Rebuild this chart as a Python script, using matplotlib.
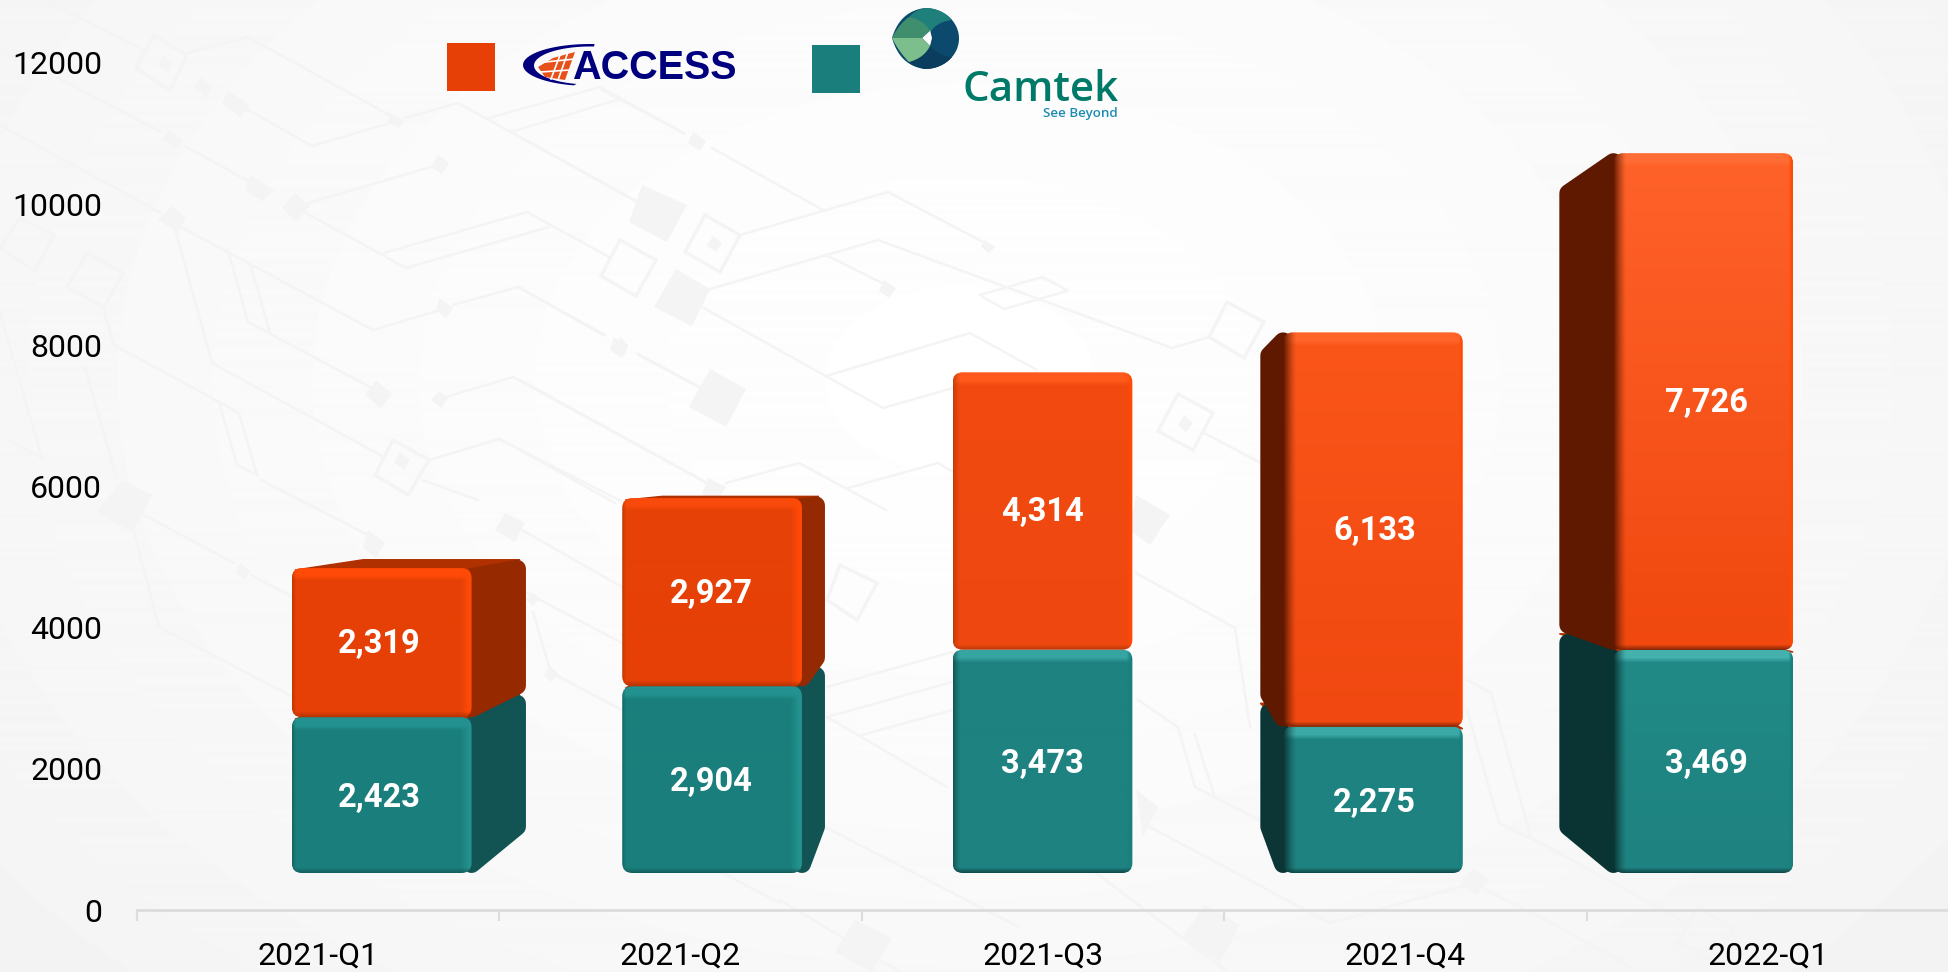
import numpy as np
import matplotlib
matplotlib.use('Agg')
import matplotlib.pyplot as plt
from matplotlib.patches import FancyBboxPatch, Polygon, Rectangle
from matplotlib.colors import to_rgb

W, H = 1949, 972

quarters = ['2021-Q1', '2021-Q2', '2021-Q3', '2021-Q4', '2022-Q1']
camtek = [2423, 2904, 3473, 2275, 3469]
access = [2319, 2927, 4314, 6133, 7726]
y_ticks = [0, 2000, 4000, 6000, 8000, 10000, 12000]

# per bar shading, left to right
orange_top = ['#E64006', '#E64208', '#F24A10', '#FB561A', '#FF6229']
orange_bot = ['#E64006', '#E64006', '#EE4810', '#F04810', '#F0480F']
orange_strip = ['#FF4A08', '#F84A0A', '#FF5A1C', '#FF6428', '#FF6C34']
orange_side = ['#972900', '#952A02', '#5E1900', '#5E1900', '#5E1900']
teal_top = ['#1A7F7C', '#1A7F7C', '#1E8280', '#1E8280', '#218A87']
teal_bot = ['#1A7F7C', '#1A7F7C', '#1E8280', '#1E8280', '#1E8280']
teal_strip = ['#23928F', '#23928F', '#36A5A2', '#3BA9A5', '#44B1AE']
teal_side = ['#125353', '#125353', '#0C3636', '#0C3636', '#0A3333']
left_w = [4, 4, 7, 13, 13]
right_w = [11, 11, 6, 4, 4]

# background circuit traces, in picture pixels
traces = [
    [(45, 0), (143, 50)], [(187, 53), (248, 37), (393, 117)], [(58, 78), (161, 132)],
    [(185, 146), (250, 182)], [(245, 108), (312, 146), (393, 122)], [(404, 118), (458, 103), (638, 202)],
    [(489, 118), (600, 87), (683, 133)], [(511, 132), (620, 99)], [(0, 125), (161, 213)],
    [(181, 227), (373, 330), (440, 310)], [(453, 305), (518, 287), (603, 335)], [(638, 354), (699, 387)],
    [(308, 203), (431, 167)], [(306, 213), (406, 268), (549, 227)], [(384, 253), (527, 212), (609, 257)],
    [(176, 232), (212, 363), (384, 457)], [(228, 250), (248, 322), (370, 387)], [(250, 263), (270, 333)],
    [(103, 308), (114, 345), (219, 402), (237, 465), (257, 475)], [(219, 402), (239, 413), (257, 475)],
    [(85, 367), (116, 477)], [(0, 313), (42, 458)], [(9, 440), (42, 458)],
    [(446, 397), (513, 377), (707, 483)], [(429, 460), (499, 439), (625, 503)], [(422, 480), (478, 500)],
    [(134, 532), (159, 627), (293, 697)], [(144, 515), (234, 563)], [(251, 575), (293, 597)],
    [(261, 480), (368, 535)], [(602, 90), (684, 133)], [(712, 148), (823, 210)],
    [(520, 137), (639, 203)], [(740, 235), (888, 192), (985, 243)], [(710, 289), (878, 240), (1172, 348), (1209, 337)],
    [(828, 256), (886, 285)], [(980, 295), (1042, 277), (1067, 290)], [(983, 297), (1004, 309), (1067, 291)],
    [(702, 307), (883, 408), (953, 388)], [(826, 376), (970, 333), (1037, 370)], [(520, 288), (605, 335)],
    [(639, 355), (699, 387)], [(520, 380), (707, 483)], [(726, 483), (799, 463), (886, 510)],
    [(848, 488), (938, 463), (953, 472)], [(520, 450), (615, 503)], [(1204, 433), (1261, 463)],
    [(827, 687), (952, 652)], [(827, 717), (952, 682)], [(862, 735), (952, 710)], [(827, 717), (947, 787)],
    [(1136, 573), (1235, 628), (1250, 727)], [(1138, 700), (1178, 727), (1195, 787), (1265, 823)],
    [(1195, 735), (1215, 798)], [(1150, 827), (1330, 923), (1467, 885)], [(1486, 890), (1560, 927)],
    [(825, 827), (1019, 927)], [(1088, 867), (1228, 972)], [(780, 900), (900, 972)],
    [(1467, 680), (1491, 693), (1531, 838), (1560, 853)], [(1467, 710), (1499, 823), (1540, 843), (1687, 923)],
    [(1540, 917), (1640, 972)], [(522, 530), (622, 587)], [(527, 593), (622, 643)], [(533, 612), (550, 670)],
    [(552, 673), (622, 710)], [(721, 872), (780, 903)],
]
solid_diamonds = [
    [(163, 55), (172, 62), (168, 72), (159, 66)], [(200, 77), (212, 87), (206, 97), (195, 88)],
    [(228, 90), (250, 106), (240, 117), (222, 104)], [(391, 113), (405, 122), (398, 128), (388, 122)],
    [(168, 130), (183, 140), (176, 149), (163, 140)], [(250, 175), (274, 190), (262, 201), (245, 190)],
    [(295, 193), (310, 207), (296, 221), (282, 208)], [(172, 206), (186, 218), (178, 232), (158, 220)],
    [(438, 155), (449, 163), (442, 174), (431, 167)], [(642, 185), (687, 205), (667, 242), (629, 222)],
    [(676, 269), (710, 289), (692, 326), (654, 307)], [(710, 369), (746, 389), (726, 427), (689, 407)],
    [(614, 337), (628, 347), (622, 358), (610, 350)], [(693, 132), (706, 141), (700, 151), (688, 143)],
    [(985, 240), (995, 247), (989, 253), (981, 247)], [(884, 280), (896, 288), (889, 298), (879, 291)],
    [(439, 298), (453, 308), (446, 318), (436, 310)], [(620, 337), (628, 345), (624, 355), (615, 347)],
    [(439, 391), (448, 398), (441, 408), (431, 400)], [(376, 380), (392, 394), (381, 408), (365, 395)],
    [(122, 480), (152, 495), (132, 532), (97, 512)], [(368, 530), (385, 543), (376, 558), (363, 548)],
    [(505, 513), (525, 523), (515, 542), (495, 530)], [(240, 563), (250, 571), (245, 580), (236, 573)],
    [(532, 592), (540, 598), (533, 606), (526, 600)], [(549, 666), (558, 673), (552, 682), (544, 676)],
    [(855, 920), (892, 938), (872, 972), (835, 952)], [(1205, 905), (1240, 925), (1220, 962), (1183, 937)],
    [(1474, 868), (1488, 880), (1476, 895), (1460, 883)], [(1136, 495), (1170, 515), (1150, 545), (1130, 530)],
    [(708, 478), (726, 487), (716, 503), (702, 494)], [(1136, 790), (1158, 807), (1143, 837)],
    [(713, 236), (722, 243), (716, 252), (707, 246)], [(1184, 415), (1193, 423), (1186, 432), (1178, 425)],
    [(400, 452), (410, 460), (404, 470), (394, 462)],
]
outline_diamonds = [
    [(154, 35), (187, 55), (170, 90), (136, 68)], [(20, 218), (54, 235), (35, 271), (0, 248)],
    [(87, 253), (123, 273), (104, 307), (67, 287)], [(393, 440), (429, 460), (408, 495), (375, 475)],
    [(620, 240), (656, 260), (636, 296), (601, 276)], [(705, 215), (740, 235), (720, 272), (685, 252)],
    [(1227, 302), (1264, 322), (1244, 358), (1209, 337)], [(1178, 394), (1213, 413), (1193, 450), (1158, 431)],
    [(840, 565), (877, 583), (857, 620), (827, 600)], [(1698, 908), (1733, 928), (1715, 962), (1678, 942)],
]

fig = plt.figure(figsize=(W / 100, H / 100), dpi=100)
plt.rcParams['font.family'] = ['Roboto', 'DejaVu Sans']

# picture layer, y runs downwards in pixels
pic = fig.add_axes([0, 0, 1, 1], zorder=0)
pic.axis('off')

yy, xx = np.mgrid[0:H, 0:W]
dist = np.hypot((xx - 960) / 1150, (yy - 380) / 800)
bg = 254.5 - 10 * np.clip(dist, 0, 1.2) ** 1.4
pic.imshow(bg, cmap='gray', vmin=0, vmax=255, extent=(0, W, H, 0), aspect='auto', zorder=0)

for t in traces:
    xs, ys = zip(*t)
    pic.plot(xs, ys, color='#F4F4F4', lw=1.8, solid_joinstyle='miter', zorder=1)
for d in solid_diamonds:
    pic.add_patch(Polygon(d, closed=True, fc='#F4F4F4', ec='none', zorder=1))
for d in outline_diamonds:
    pic.add_patch(Polygon(d, closed=True, fc='none', ec='#F4F4F4', lw=2.4, zorder=1))

# category axis and value axis in the flat plane
ax = fig.add_axes([137 / W, (H - 910) / H, (W - 137) / W, 910 / H], zorder=1)
ax.patch.set_alpha(0)
ax.set_xlim(-0.5, 4.5)
ax.set_ylim(0, 910 / 141.2 * 2000)
for s in ['left', 'top', 'right']:
    ax.spines[s].set_visible(False)
ax.spines['bottom'].set_color('#DCDCDC')
ax.spines['bottom'].set_linewidth(2)
ax.set_yticks(y_ticks)
ax.set_yticklabels([str(v) for v in y_ticks], fontsize=23, color='#000000')
ax.tick_params(axis='y', length=0, pad=25)
ax.set_xticks(range(5))
ax.set_xticklabels(quarters, fontsize=23, color='#000000')
ax.tick_params(axis='x', which='major', length=0, pad=23)
ax.set_xticks(np.arange(-0.5, 4.6, 1), minor=True)
ax.tick_params(axis='x', which='minor', length=8, width=1.5, color='#DCDCDC')

# the stacked bars sit on a nearer plane with their own scale
bars_ax = fig.add_axes([216.5 / W, (H - 873) / H, 1652 / W, 873 / H], zorder=2)
bars_ax.axis('off')
bars_ax.set_xlim(-0.5, 4.5)
bars_ax.set_ylim(0, 873 / 0.0643)

vx, vy, depth = 1044, 480, 0.905
half = 0.272


def to_px(x, y):
    p = bars_ax.transData.transform((x, y))
    return p[0], H - p[1]


def to_back(p):
    return vx + depth * (p[0] - vx), vy + depth * (p[1] - vy)


def mix(base, col, a):
    return base * (1 - a[..., None]) + np.array(to_rgb(col)) * a[..., None]


def face_image(w, h, top, bot, strip, lw, rw, left_col, right_col, bot_col):
    t = np.linspace(0, 1, h)[:, None, None]
    img = np.array(to_rgb(top)) * (1 - t) + np.array(to_rgb(bot)) * t
    img = np.repeat(img, w, axis=1)
    yd, xd = np.mgrid[0:h, 0:w]
    img = mix(img, strip, np.clip((13 - yd) / 5, 0, 1))
    strength = 1.0 if lw > 10 else 0.55
    img = mix(img, left_col, strength * np.clip(1 - xd / lw, 0, 1) ** 1.3)
    img = mix(img, right_col, np.clip((rw - (w - 1 - xd)) / (rw * 0.8), 0, 1))
    img = mix(img, bot_col, 0.7 * np.clip(1 - (h - 1 - yd) / 5, 0, 1))
    return np.clip(img, 0, 1)


z = 5


def draw_segment(i, base, value, top, bot, strip, side, dark, edge):
    global z
    x0, y_bot = to_px(i - half, base)
    x1, y_top = to_px(i + half, base + value)
    cx = (x0 + x1) / 2
    r = 9
    # side wall towards the vanishing point
    if cx < vx and to_back((x1, 0))[0] > x1:
        fx, bx, sign = x1, to_back((x1, 0))[0], -1
    elif cx > vx and to_back((x0, 0))[0] < x0:
        fx, bx, sign = x0, to_back((x0, 0))[0], 1
    else:
        fx = None
    if fx is not None:
        by_top = to_back((0, y_top))[1]
        by_bot = to_back((0, y_bot))[1]
        if by_top < y_top:
            roof = [(x0 + 3, y_top + 2), (x1, y_top + 2)]
            roof += [(to_back((x1, 0))[0] - 6, by_top), (to_back((x0, 0))[0], by_top)]
            pic.add_patch(Polygon(roof, closed=True, fc='#B03000', ec='#B03000', lw=1, zorder=z))
            z += 1
        wall = [(fx, y_top + r), (bx + sign * r, by_top + r), (bx + sign * r, by_bot - r), (fx, y_bot - r)]
        pic.add_patch(Polygon(wall, closed=True, fc=side, ec=side, lw=r * 2 * 0.72, joinstyle='round', zorder=z))
        z += 1
    # front face
    w, h = int(round(x1 - x0)), int(round(y_bot - y_top))
    box = FancyBboxPatch((x0, y_top), x1 - x0, y_bot - y_top, boxstyle='round,pad=0,rounding_size=10',
                         fc='none', ec='none', zorder=z)
    pic.add_patch(box)
    img = face_image(w, h, top, bot, strip, left_w[i], right_w[i], dark, edge, dark)
    im = pic.imshow(img, extent=(x0, x1, y_bot, y_top), aspect='auto', zorder=z, interpolation='bilinear')
    im.set_clip_path(box)
    z += 1


def value_label(i, y, value, drop):
    # labels spread a little wider than the bars
    bars_ax.annotate(f'{value:,}', (i, y), xytext=((i - 1.8) * 1.1, -drop), textcoords='offset points', color='white',
                     fontsize=23.5, fontweight='bold', ha='center', va='center')


for i in range(5):
    draw_segment(i, 0, camtek[i], teal_top[i], teal_bot[i], teal_strip[i], teal_side[i],
                 teal_side[i], teal_strip[i] if i < 2 else '#17807C')
    draw_segment(i, camtek[i], access[i], orange_top[i], orange_bot[i], orange_strip[i], orange_side[i],
                 '#A83000' if i < 3 else orange_side[i], '#FF4A06')
    value_label(i, camtek[i] / 2, camtek[i], 2)
    value_label(i, camtek[i] + access[i] / 2, access[i], 1)

# legend swatches
pic.add_patch(Rectangle((447, 43), 48, 48, fc='#E64006', ec='none', zorder=z))
pic.add_patch(Rectangle((812, 45), 48, 48, fc='#1A7F7C', ec='none', zorder=z))

# ACCESS logo
t = np.radians(np.linspace(86, 256, 60))
outer = np.c_[590 + 67 * np.cos(t), 65 - 21 * np.sin(t)]
inner = np.c_[590 + 56 * np.cos(t[::-1]), 65.5 - 19 * np.sin(t[::-1])]
pic.add_patch(Polygon(np.r_[outer, inner], closed=True, fc='#00007E', ec='none', zorder=z))
pic.add_patch(Polygon([(553, 58), (575, 52), (565, 80), (545, 77), (538, 67)], closed=True, fc='#E8501A', ec='none', zorder=z))
for seg in [[(560, 55), (551, 79)], [(568, 52), (558, 80)], [(545, 62), (575, 59)], [(540, 72), (570, 70)]]:
    xs, ys = zip(*seg)
    pic.plot(xs, ys, color='white', lw=1.2, zorder=z)
pic.text(572, 79, 'ACCESS', family=['Liberation Sans'], fontweight='bold', fontsize=28.5, color='#00007E',
         ha='left', va='baseline', zorder=z + 1)


# Camtek logo
def bez(p0, c, p1, n=20):
    s = np.linspace(0, 1, n)[:, None]
    return (1 - s) ** 2 * np.array(p0) + 2 * s * (1 - s) * np.array(c) + s ** 2 * np.array(p1)


a = np.radians(np.linspace(90, -90, 50))
ring = np.r_[np.c_[925 + 34 * np.cos(a), 38.5 - 30.5 * np.sin(a)], bez((925, 69), (900, 66), (892, 38)), bez((892, 38), (900, 11), (925, 8))]
pic.add_patch(Polygon(ring, closed=True, fc='#0B4A6C', ec='none', zorder=z))
a = np.radians(np.linspace(90, 38, 20))
cap = np.r_[np.c_[925 + 34 * np.cos(a), 38.5 - 30.5 * np.sin(a)], bez((952, 20), (936, 22), (930, 33)), bez((930, 33), (922, 22), (909, 17)), bez((909, 17), (915, 10), (925, 8))]
pic.add_patch(Polygon(cap, closed=True, fc='#1F7F7A', ec='none', zorder=z))
a = np.radians(np.linspace(-90, -38, 20))
floor = np.r_[np.c_[925 + 34 * np.cos(a), 38.5 - 30.5 * np.sin(a)], bez((952, 57), (936, 55), (930, 45)), bez((930, 45), (922, 58), (909, 62)), bez((909, 62), (915, 67), (925, 69))]
pic.add_patch(Polygon(floor, closed=True, fc='#0A3D5E', ec='none', zorder=z))
pic.add_patch(Polygon([(922, 38), (930, 30), (932, 38), (930, 46)], closed=True, fc='white', ec='none', zorder=z))
leaf_up = np.r_[bez((892, 38), (899, 24), (909, 17)), bez((909, 17), (924, 20), (930, 31)), [(922, 38)]]
leaf_low = np.r_[[(892, 38), (922, 38)], bez((930, 46), (924, 58), (909, 62)), bez((909, 62), (899, 52), (892, 38))]
pic.add_patch(Polygon(leaf_up, closed=True, fc='#3F8F6E', ec='none', zorder=z))
pic.add_patch(Polygon(leaf_low, closed=True, fc='#7CBF8C', ec='none', zorder=z))
pic.text(963, 101, 'Camtek', family=['Open Sans'], fontweight='semibold', fontsize=30.3, color='#007A68',
         ha='left', va='baseline', zorder=z + 1)
pic.text(1118, 117, 'See Beyond', family=['Open Sans'], fontweight='semibold', fontsize=9.6, color='#1E8CB0', ha='right', va='baseline', zorder=z + 1)

pic.set_xlim(0, W)
pic.set_ylim(H, 0)

fig.savefig('out.png', dpi=100)
